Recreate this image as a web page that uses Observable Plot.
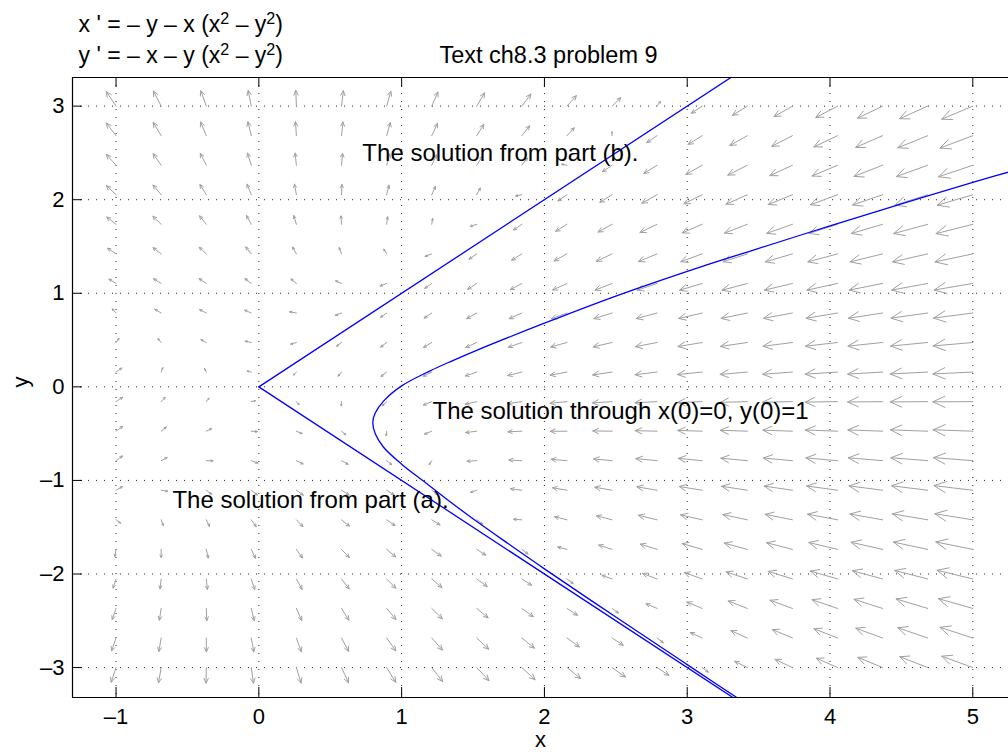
<!DOCTYPE html>
<html>
<head>
<meta charset="utf-8">
<script src="https://cdn.jsdelivr.net/npm/d3@7"></script>
<script src="https://cdn.jsdelivr.net/npm/@observablehq/plot@0.6"></script>
<style>
  html, body { margin: 0; padding: 0; background: #fff; }
  #chart svg { display: block; }
</style>
</head>
<body>
<div id="chart"></div>
<script>
// ---- axis extents and ticks ----
const xDomain = [-1.305, 5.25];
const yDomain = [-3.32, 3.306];
const xTicks = [-1, 0, 1, 2, 3, 4, 5];
const yTicks = [-3, -2, -1, 0, 1, 2, 3];

// ---- direction-field grid (arrow tails) ----
const gridX = [-1, -0.684, -0.368, -0.053, 0.263, 0.579, 0.895, 1.211, 1.526, 1.842,
               2.158, 2.474, 2.789, 3.105, 3.421, 3.737, 4.053, 4.368, 4.684, 5];
const gridY = [-3, -2.684, -2.368, -2.053, -1.737, -1.421, -1.105, -0.789, -0.474, -0.158,
               0.158, 0.474, 0.789, 1.105, 1.421, 1.737, 2.053, 2.368, 2.684, 3];
const arrowScale = 0.056; // arrow length per cube root of speed (data units)

// ---- solution curves ----
const curveB = [{x: 0, y: 0}, {x: 3.5, y: 3.5}];
const curveA = [{x: 0, y: 0}, {x: 3.5, y: -3.5}];
const curveC = [
  {x: 5.4, y: 2.36}, {x: 5.0, y: 2.185}, {x: 4.5, y: 1.955}, {x: 4.0, y: 1.72},
  {x: 3.48, y: 1.47}, {x: 3.09, y: 1.28}, {x: 2.5, y: 0.97}, {x: 2.0, y: 0.68},
  {x: 1.517, y: 0.385}, {x: 1.354, y: 0.278}, {x: 1.2, y: 0.171}, {x: 1.0, y: 0.01},
  {x: 0.875, y: -0.15}, {x: 0.815, y: -0.28}, {x: 0.798, y: -0.38}, {x: 0.816, y: -0.505},
  {x: 0.875, y: -0.648}, {x: 1.0, y: -0.826}, {x: 1.155, y: -1.01}, {x: 1.307, y: -1.19},
  {x: 1.5, y: -1.41}, {x: 1.75, y: -1.68}, {x: 2.0, y: -1.945}, {x: 2.5, y: -2.46},
  {x: 3.0, y: -2.969}, {x: 3.5, y: -3.475}
];

// ---- text ----
const labelText = ["The solution from part (b).", "The solution through x(0)=0, y(0)=1", "The solution from part (a)."];
const labelX = [0.725, 1.216, -0.605];
const labelY = [2.494, -0.263, -1.215];
const titleText = "Text ch8.3 problem 9";
const eqLines = ["x ' = – y – x (x² – y²)", "y ' = – x – y (x² – y²)"];
const xLabel = "x";
const yLabel = "y";

const labels = labelText.map((t, i) => ({text: t, x: labelX[i], y: labelY[i]}));

// direction field from the system shown in the chart heading
const field = [];
for (const x of gridX) {
  for (const y of gridY) {
    const r = x * x - y * y;
    const u = -y - x * r;
    const v = -x - y * r;
    const m = Math.hypot(u, v);
    const L = arrowScale * Math.cbrt(m);
    field.push({x1: x, y1: y, x2: x + L * u / m, y2: y + L * v / m});
  }
}

const fmt = d => (d < 0 ? "–" + Math.abs(d) : String(d));
const font = "'Liberation Sans', Arial, Helvetica, sans-serif";

const chart = Plot.plot({
  width: 1008,
  height: 754,
  marginLeft: 72,
  marginRight: 0,
  marginTop: 77,
  marginBottom: 57,
  style: {fontFamily: font, fontSize: "22px", background: "#fff", color: "#000"},
  x: {domain: xDomain, ticks: xTicks, label: null},
  y: {domain: yDomain, ticks: yTicks, label: null},
  marks: [
    Plot.gridX(xTicks, {stroke: "#000", strokeOpacity: 0.85, strokeDasharray: "1,7"}),
    Plot.gridY(yTicks, {stroke: "#000", strokeOpacity: 0.85, strokeDasharray: "1,7"}),
    Plot.arrow(field, {x1: "x1", y1: "y1", x2: "x2", y2: "y2", stroke: "#a0a0a0", strokeWidth: 1,
                       headAngle: 50, headLength: 1000}),
    Plot.line(curveB, {x: "x", y: "y", stroke: "#0000ff", strokeWidth: 1.3, clip: true}),
    Plot.line(curveA, {x: "x", y: "y", stroke: "#0000ff", strokeWidth: 1.3, clip: true}),
    Plot.line(curveC, {x: "x", y: "y", stroke: "#0000ff", strokeWidth: 1.3, curve: "catmull-rom", clip: true}),
    Plot.text(labels, {x: "x", y: "y", text: "text", textAnchor: "start", lineAnchor: "middle",
                       fontSize: 24, fill: "#000"}),
    Plot.axisX(xTicks, {anchor: "bottom", tickSize: 0, tickPadding: 11, tickFormat: fmt, fontSize: 22}),
    Plot.axisY(yTicks, {anchor: "left", tickSize: 0, tickPadding: 8, tickFormat: fmt, fontSize: 22}),
    Plot.tickX(xTicks, {x: d => d, insetTop: 610, stroke: "#000"}),
    Plot.tickX(xTicks, {x: d => d, insetBottom: 610, stroke: "#000"}),
    Plot.tickY(yTicks, {y: d => d, insetRight: 926, stroke: "#000"}),
    Plot.ruleX([xDomain[0]], {stroke: "#000", strokeWidth: 1.2}),
    Plot.ruleY([yDomain[0]], {stroke: "#000", strokeWidth: 1.2}),
    Plot.ruleY([yDomain[1]], {stroke: "#000", strokeWidth: 1.2}),
    Plot.text([titleText], {text: d => d, frameAnchor: "top", dx: 8, dy: -22, lineAnchor: "middle", fontSize: 23.5}),
    Plot.text([eqLines[0]], {text: d => d, frameAnchor: "top-left", dx: 6, dy: -53,
                             textAnchor: "start", lineAnchor: "middle", fontSize: 23}),
    Plot.text([eqLines[1]], {text: d => d, frameAnchor: "top-left", dx: 6, dy: -22,
                             textAnchor: "start", lineAnchor: "middle", fontSize: 23}),
    Plot.text([xLabel], {text: d => d, frameAnchor: "bottom", dy: 42, lineAnchor: "middle", fontSize: 22}),
    Plot.text([yLabel], {text: d => d, frameAnchor: "left", dx: -52, rotate: -90, lineAnchor: "middle", fontSize: 22})
  ]
});

// render the squared terms as raised, smaller superscripts
d3.select(chart).selectAll("text")
  .filter(function () { return this.textContent.includes("²"); })
  .each(function () {
    const t = d3.select(this);
    const parts = this.textContent.split(/(²)/).filter(p => p !== "");
    t.text(null);
    let raised = false;
    for (const p of parts) {
      if (p === "²") {
        t.append("tspan").attr("font-size", "0.7em").attr("dy", "-0.5em").text("2");
        raised = true;
      } else {
        const s = t.append("tspan").text(p);
        if (raised) { s.attr("dy", "0.35em"); raised = false; }
      }
    }
  });

document.getElementById("chart").appendChild(chart);
</script>
</body>
</html>
